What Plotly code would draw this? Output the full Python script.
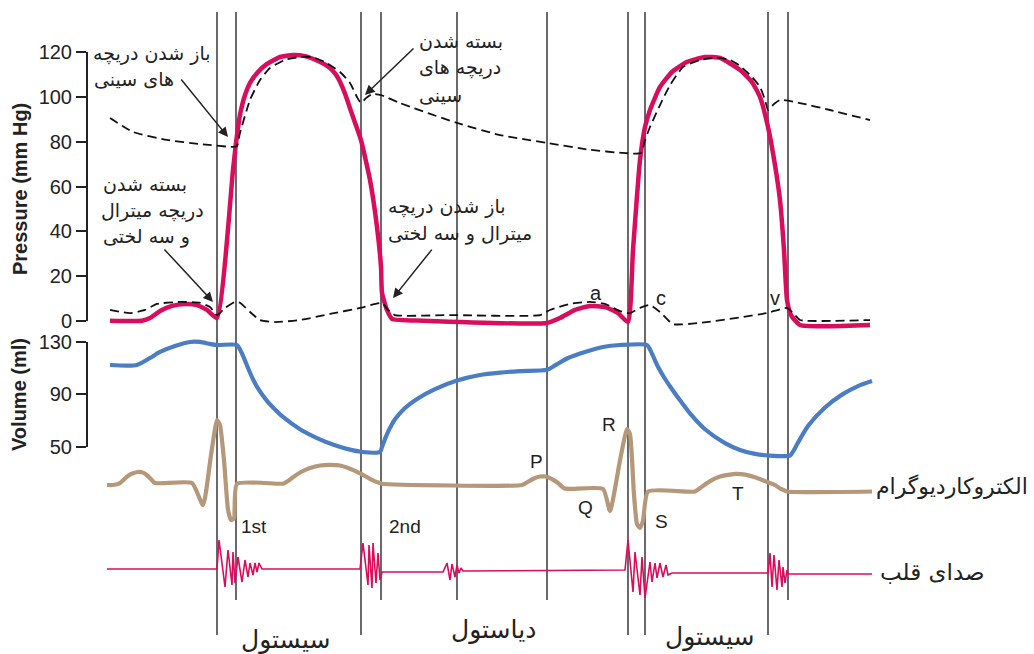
import plotly.graph_objects as go

W, H = 1034, 654

# ---------------- data (time in ms) ----------------
event_times = [224, 262, 512, 552, 704, 884, 1046, 1080, 1326, 1366]
event_long = [True, False, True, False, False, False, True, True, True, False]

# Left ventricular pressure (mm Hg)
lv_t = [10, 74, 90, 110, 134, 160, 184, 204, 224, 256, 262, 270, 280, 290, 306, 324, 350, 376,
        400, 426, 450, 462, 470, 480, 490, 500, 512, 530, 544, 552, 554, 564, 574, 636, 884, 910,
        940, 970, 1000, 1026, 1046, 1056, 1070, 1080, 1090, 1110, 1134, 1164, 1200, 1230, 1270,
        1294, 1310, 1326, 1340, 1350, 1358, 1364, 1372, 1390, 1530]
lv_p = [0, 0, 1.2, 4.3, 6.6, 7.5, 7.0, 4.8, 1.2, 67.4, 79.4, 92.0, 100.9, 106.3, 111.2, 114.8,
        117.9, 118.8, 118.3, 116.1, 113.0, 110.0, 106.8, 101.5, 95.0, 88.5, 80.7, 62.9, 41.9, 24.0,
        12.4, 4.8, 0.8, 0, -1.0, 1.2, 4.8, 6.6, 6.1, 3.4, -0.6, 31.6, 71.8, 86.6, 94.2, 104.5,
        111.2, 115.7, 117.9, 117.5, 112.1, 106.7, 100.0, 86.6, 69.6, 53.9, 31.6, 9.3, 2.5, -1.9,
        -1.9]

# Aortic pressure (mm Hg)
ao_t = [10, 56, 124, 190, 256, 264, 270, 290, 310, 330, 360, 390, 414, 440, 470, 490, 504, 512,
        522, 534, 552, 590, 704, 790, 884, 970, 1036, 1072, 1080, 1090, 1110, 1130, 1156, 1190,
        1224, 1250, 1270, 1294, 1310, 1320, 1326, 1338, 1350, 1390, 1450, 1530]
ao_p = [90.6, 84.4, 80.8, 79.0, 77.7, 78.1, 84.0, 98.7, 107.6, 113.0, 116.6, 117.9, 117.9, 115.6,
        111.2, 106.3, 100.0, 97.3, 99.5, 101.3, 100.9, 97.3, 88.4, 83.0, 79.5, 76.4, 75.0, 75.0,
        80.7, 86.6, 96.4, 105.3, 113.4, 116.6, 117.5, 116.6, 113.9, 109.0, 104.5, 98.7, 94.2,
        96.9, 98.7, 97.3, 94.2, 89.7]

# Atrial pressure (mm Hg)
la_t = [10, 50, 80, 104, 150, 190, 210, 224, 240, 260, 270, 290, 310, 340, 390, 450, 510, 554,
        566, 580, 690, 870, 890, 930, 970, 1000, 1030, 1050, 1070, 1090, 1110, 1136, 1190, 1324,
        1364, 1380, 1390, 1530]
la_p = [4.8, 3.4, 4.8, 7.5, 8.4, 8.0, 6.1, 2.5, 5.7, 8.4, 8.0, 3.9, 0.3, -0.6, 0.3, 3.0, 5.7, 7.9,
        4.8, 2.5, 2.5, 2.5, 4.8, 7.5, 8.4, 7.5, 4.3, 3.4, 5.7, 7.0, 3.9, -1.5, -1.0, 3.4, 5.7,
        2.5, 0.3, 0.3]

# Ventricular volume (ml)
vol_t = [10, 64, 90, 110, 140, 170, 190, 210, 224, 264, 270, 278, 286, 296, 306, 324, 340, 356,
         390, 424, 460, 490, 512, 550, 554, 560, 566, 572, 580, 600, 624, 660, 704, 750, 790, 830,
         884, 900, 926, 960, 996, 1030, 1084, 1090, 1098, 1106, 1118, 1132, 1150, 1170, 1200,
         1240, 1270, 1300, 1328, 1370, 1376, 1382, 1390, 1406, 1440, 1474, 1506, 1534]
vol_v = [112.3, 112.3, 117.6, 122.2, 126.7, 129.8, 129.8, 128.3, 127.5, 127.5, 124.0, 117.5,
         110.0, 101.5, 94.5, 85.0, 78.5, 72.8, 63.5, 56.8, 51.3, 48.0, 46.4, 46.2, 50.0, 56.0,
         61.5, 66.0, 71.0, 79.6, 86.5, 94.0, 100.5, 104.7, 106.5, 107.7, 108.7, 112.0, 117.6,
         122.2, 126.0, 127.5, 127.5, 124.0, 117.5, 111.0, 103.0, 95.0, 85.5, 75.5, 63.5, 53.0,
         47.8, 44.8, 43.5, 43.5, 46.5, 50.5, 56.0, 66.0, 80.0, 89.8, 96.3, 100.1]

# Electrocardiogram (mV)
ecg_t = [4, 16, 30, 46, 56, 66, 76, 84, 92, 100, 174, 196, 212, 224, 230, 238, 246, 252, 258, 264,
         356, 366, 376, 392, 410, 430, 450, 470, 490, 510, 522, 534, 546, 554, 834, 846, 858, 870,
         882, 894, 906, 918, 930, 996, 1010, 1030, 1044, 1050, 1058, 1064, 1070, 1076, 1086, 1180,
         1195, 1210, 1230, 1250, 1262, 1280, 1300, 1320, 1340, 1352, 1364, 1534]
ecg_mv = [0, 0, 0.03, 0.14, 0.18, 0.2, 0.19, 0.15, 0.09, 0.03, 0.03, -0.31, 0.46, 1.0, 0.92, 0.38,
          -0.38, -0.54, -0.51, 0.02, 0.02, 0.06, 0.12, 0.2, 0.26, 0.3, 0.31, 0.3, 0.25, 0.18,
          0.13, 0.08, 0.04, 0.02, 0.0, 0.05, 0.1, 0.13, 0.13, 0.09, 0.03, -0.05, -0.06, -0.06,
          -0.4, 0.38, 0.86, 0.78, -0.15, -0.6, -0.66, -0.55, -0.1, -0.1, -0.02, 0.06, 0.13, 0.16,
          0.17, 0.16, 0.12, 0.06, 0.0, -0.06, -0.1, -0.1]

# Heart sounds (relative amplitude)
snd_t = [4, 224, 228, 240, 246, 254, 256, 260, 266, 274, 280, 286, 290, 296, 300, 304, 308, 314,
         510, 516, 526, 528, 534, 536, 542, 546, 550, 554, 676, 684, 690, 694, 700, 704, 708, 712,
         716, 1040, 1046, 1056, 1060, 1070, 1074, 1080, 1090, 1094, 1100, 1104, 1110, 1116, 1122,
         1126, 1134, 1326, 1330, 1334, 1338, 1344, 1348, 1354, 1356, 1360, 1364, 1366, 1534]
snd_a = [0.1, 0.1, 3.0, -1.7, 2.0, -1.5, 1.8, -1.3, 1.3, -1.2, 1.0, -0.7, 0.7, -0.5, 0.7, -0.2,
         0.7, 0.1, 0.1, 2.7, -1.5, 2.5, -1.8, 2.7, -1.3, 1.7, -1.0, -0.2, -0.2, 0.7, -1.0, 0.6,
         -0.7, 0.5, -0.3, 0.2, -0.1, 0, 3.0, -2.2, 1.8, -2.5, 1.3, -2.8, 0.8, -1.2, 0.7, -0.8,
         0.7, -0.7, 0.5, -0.5, -0.3, -0.3, 1.7, -1.7, 1.5, -2.0, 1.0, -1.7, 0.3, -1.3, 0, -0.4,
         -0.4]

pressure_ticks = [0, 20, 40, 60, 80, 100, 120]
volume_ticks = [50, 90, 130]

# ---------------- styling ----------------
RED = '#da0d5c'
BLUE = '#4a7dc4'
TAN = '#b5977a'
INK = '#222222'
FA = 'DejaVu Sans'
EN = 'Liberation Sans, Arial, sans-serif'


def rng(v0, py0, ppu):
    """axis range for full-height axis: value v0 sits at pixel row py0, ppu px per unit"""
    return [v0 - (H - py0) / ppu, v0 + py0 / ppu]


def py2paper(py):
    return 1 - py / H


def px2paper(px):
    return px / W


fig = go.Figure()

# dummy traces so that the visible tick axes exist
fig.add_trace(go.Scatter(x=[None], y=[None], xaxis='x', yaxis='y', showlegend=False, hoverinfo='skip'))
fig.add_trace(go.Scatter(x=[None], y=[None], xaxis='x', yaxis='y2', showlegend=False, hoverinfo='skip'))

fig.add_trace(go.Scatter(x=lv_t, y=lv_p, yaxis='y3', mode='lines',
                         line=dict(color=RED, width=4.5, shape='spline', smoothing=0.5),
                         showlegend=False))
fig.add_trace(go.Scatter(x=ao_t, y=ao_p, yaxis='y3', mode='lines',
                         line=dict(color='#111111', width=1.8, dash='9px,5px', shape='spline', smoothing=0.5),
                         showlegend=False))
fig.add_trace(go.Scatter(x=la_t, y=la_p, yaxis='y3', mode='lines',
                         line=dict(color='#111111', width=1.8, dash='9px,5px', shape='spline', smoothing=0.5),
                         showlegend=False))
fig.add_trace(go.Scatter(x=vol_t, y=vol_v, yaxis='y4', mode='lines',
                         line=dict(color=BLUE, width=4.2, shape='spline', smoothing=0.7),
                         showlegend=False))
fig.add_trace(go.Scatter(x=ecg_t, y=ecg_mv, yaxis='y5', mode='lines',
                         line=dict(color=TAN, width=4.2, shape='spline', smoothing=0.5),
                         showlegend=False))
fig.add_trace(go.Scatter(x=snd_t, y=snd_a, yaxis='y6', mode='lines',
                         line=dict(color=RED, width=1.6),
                         showlegend=False))

# vertical event lines
for t, lng in zip(event_times, event_long):
    fig.add_shape(type='line', xref='x', yref='paper', x0=t, x1=t,
                  y0=py2paper(635 if lng else 600), y1=py2paper(12),
                  line=dict(color='#2a2a2a', width=1.4), layer='below')

tickfont = dict(family=EN, size=20, color=INK)
common_vis = dict(showline=True, linewidth=2, linecolor=INK, ticks='outside', ticklen=10,
                  tickwidth=2, tickcolor=INK, showgrid=False, zeroline=False, tickfont=tickfont,
                  anchor='free', position=px2paper(87), fixedrange=True, automargin=False)
hidden = dict(visible=False, anchor='x', domain=[0, 1], fixedrange=True, automargin=False)

fig.update_layout(
    width=W, height=H, autosize=False,
    margin=dict(l=0, r=0, t=0, b=0, pad=0, autoexpand=False),
    paper_bgcolor='white', plot_bgcolor='rgba(0,0,0,0)',
    xaxis=dict(visible=False, domain=[0, 1], range=[-210, 1858], fixedrange=True, automargin=False),
    yaxis=dict(domain=[py2paper(320.7), py2paper(52.3)], range=[0, 120],
               tickvals=pressure_ticks, **common_vis),
    yaxis2=dict(domain=[py2paper(447), py2paper(341.7)], range=[50, 130],
                tickvals=volume_ticks, **common_vis),
    yaxis3=dict(range=rng(0, 320.7, 2.2367), **hidden),
    yaxis4=dict(range=rng(130, 341.7, 1.31625), **hidden),
    yaxis5=dict(range=rng(0, 485, 65), **hidden),
    yaxis6=dict(range=rng(0, 570, 10), **hidden),
)

ann = []


def txt(s, px, py, size=19, family=FA, xanchor='left', color=INK, angle=0):
    ann.append(dict(text=s, x=px2paper(px), y=py2paper(py), xref='paper', yref='paper',
                    showarrow=False, xanchor=xanchor, yanchor='middle', textangle=angle,
                    font=dict(family=family, size=size, color=color)))


# axis titles
txt('<b>Pressure (mm Hg)</b>', 20, 189, size=20, family=EN, xanchor='center', angle=-90)
txt('<b>Volume (ml)</b>', 19, 395, size=20, family=EN, xanchor='center', angle=-90)

# Persian annotations
txt('باز شدن دریچه', 91, 53)
txt('های سینی', 92, 79)
txt('بسته شدن', 101, 184)
txt('دریچه میترال', 99, 210)
txt('و سه لختی', 101, 236)
txt('بسته شدن', 417, 41)
txt('دریچه های', 417, 68)
txt('سینی', 417, 95)
txt('باز شدن دریچه', 386, 206)
txt('میترال و سه لختی', 386, 233)

txt('الکتروکاردیوگرام', 874, 486, size=22)
txt('صدای قلب', 878, 572, size=23)

txt('سیستول', 285, 639, size=25, xanchor='center')
txt('دیاستول', 493, 629, size=25, xanchor='center')
txt('سیستول', 709, 636, size=25, xanchor='center')

# wave letters
for s, px, py in [('P', 536, 461), ('Q', 585, 507), ('R', 609, 424), ('S', 661, 521),
                  ('T', 738, 493), ('1st', 254, 526), ('2nd', 405, 526)]:
    txt(s, px, py, size=19, family=EN, xanchor='center')
for s, px, py in [('a', 596, 293), ('c', 661, 298), ('v', 775, 298)]:
    txt(s, px, py, size=20, family=EN, xanchor='center')

# arrows (tips on pressure curves)
for tx, tp, ax, ay in [(246, 82.1, -48, -59), (216, 8.4, -50, -54),
                       (520, 100.9, 50, -48), (576, 10.1, 40, -50)]:
    ann.append(dict(text='', x=tx, y=tp, xref='x', yref='y3', ax=ax, ay=ay,
                    showarrow=True, arrowhead=2, arrowsize=1.3, arrowwidth=1.5,
                    arrowcolor=INK, standoff=0))

fig.update_layout(annotations=ann)
fig.write_html('out.html', config={'displayModeBar': False, 'staticPlot': True},
               post_script="document.body.style.margin='0';document.body.style.overflow='hidden';")
